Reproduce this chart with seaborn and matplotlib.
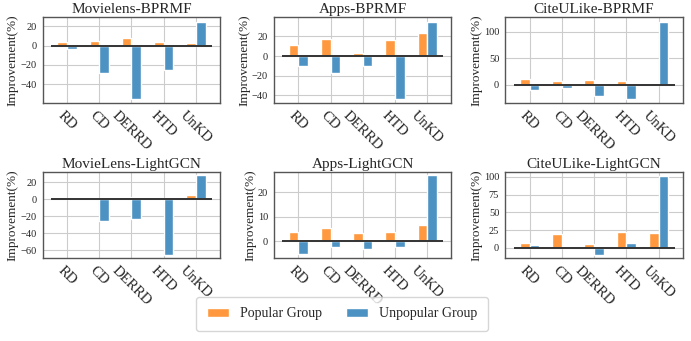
import pandas as pd
import matplotlib
matplotlib.use("Agg")
import matplotlib.pyplot as plt
import seaborn as sns

# -----------------------------
# Data
# -----------------------------
METHODS = ["RD", "CD", "DERRD", "HTD", "UnKD"]
GROUPS = ["Popular Group", "Unpopular Group"]
TITLES = ["Movielens-BPRMF", "Apps-BPRMF", "CiteULike-BPRMF",
          "MovieLens-LightGCN", "Apps-LightGCN", "CiteULike-LightGCN"]

ml_bpr_pop = [3.7, 4.7, 7.5, 3.4, 2.4]
ml_bpr_unpop = [-3.4, -28.8, -55.0, -25.4, 24.4]
apps_bpr_pop = [11.0, 17.3, 2.7, 16.0, 23.7]
apps_bpr_unpop = [-10.0, -17.3, -10.0, -44.0, 35.0]
cite_bpr_pop = [10.0, 7.5, 9.0, 7.5, 3.7]
cite_bpr_unpop = [-10.0, -7.0, -21.0, -28.0, 118.6]
ml_gcn_pop = [0.8, 1.2, 2.4, 1.6, 4.7]
ml_gcn_unpop = [1.6, -25.7, -23.3, -65.6, 28.0]
apps_gcn_pop = [3.7, 5.3, 3.4, 3.9, 6.7]
apps_gcn_unpop = [-5.3, -2.2, -3.1, -2.2, 26.8]
cite_gcn_pop = [6.6, 20.0, 5.2, 22.7, 20.8]
cite_gcn_unpop = [4.3, 1.0, -10.0, 6.2, 102.0]

POP = [ml_bpr_pop, apps_bpr_pop, cite_bpr_pop, ml_gcn_pop, apps_gcn_pop, cite_gcn_pop]
UNPOP = [ml_bpr_unpop, apps_bpr_unpop, cite_bpr_unpop, ml_gcn_unpop, apps_gcn_unpop, cite_gcn_unpop]
YLIMS = [(-59.7, 29.5), (-48, 39.7), (-35, 128), (-69.5, 32), (-6.8, 28.2), (-14.7, 107)]
YTICKS = [[-40, -20, 0, 20], [-40, -20, 0, 20], [0, 50, 100],
          [-60, -40, -20, 0, 20], [0, 10, 20], [0, 25, 50, 75, 100]]

COLORS = ["#ff983e", "#4c92c3"]

sns.set_style("whitegrid")
plt.rcParams['font.family'] = ['Liberation Serif', 'DejaVu Serif']
plt.rcParams['axes.edgecolor'] = '#555555'
plt.rcParams['grid.color'] = '#cccccc'

fig, axes = plt.subplots(2, 3, figsize=(6.91, 3.41), dpi=100)
fig.subplots_adjust(left=0.062, right=0.988, top=0.95, bottom=0.243,
                    wspace=0.305, hspace=0.80)

for k, ax in enumerate(axes.flat):
    df = pd.DataFrame({
        "method": METHODS * 2,
        "group": [GROUPS[0]] * 5 + [GROUPS[1]] * 5,
        "value": POP[k] + UNPOP[k],
    })
    sns.barplot(data=df, x="method", y="value", hue="group", order=METHODS,
                hue_order=GROUPS, palette=COLORS, width=0.6, ax=ax,
                legend=(k == 0), saturation=1)
    ax.hlines(0, -0.5, len(METHODS) - 0.5, color='#333333', lw=1.4, zorder=3)
    ax.set_xlim(-0.75, len(METHODS) - 0.25)
    ax.set_ylim(*YLIMS[k])
    ax.set_yticks(YTICKS[k])
    ax.set_title(TITLES[k], fontsize=11, pad=3)
    ax.set_xlabel("")
    ax.set_ylabel("Improvement(%)", fontsize=9.5, labelpad=1)
    ax.tick_params(axis='y', labelsize=7.5, pad=1)
    ax.tick_params(axis='x', labelsize=10.5, pad=1)
    plt.setp(ax.get_xticklabels(), rotation=-45, ha='center')
    ax.grid(True, axis='both')
    for sp in ax.spines.values():
        sp.set_linewidth(1.0)

handles, labels = axes.flat[0].get_legend_handles_labels()
axes.flat[0].get_legend().remove()
fig.legend(handles, labels, loc='lower center', ncol=2, fontsize=10,
           bbox_to_anchor=(0.495, 0.01), frameon=True, handlelength=1.6,
           handletextpad=0.8, columnspacing=1.7, borderpad=0.75)

plt.savefig("out.png", dpi=100)
plt.close()
